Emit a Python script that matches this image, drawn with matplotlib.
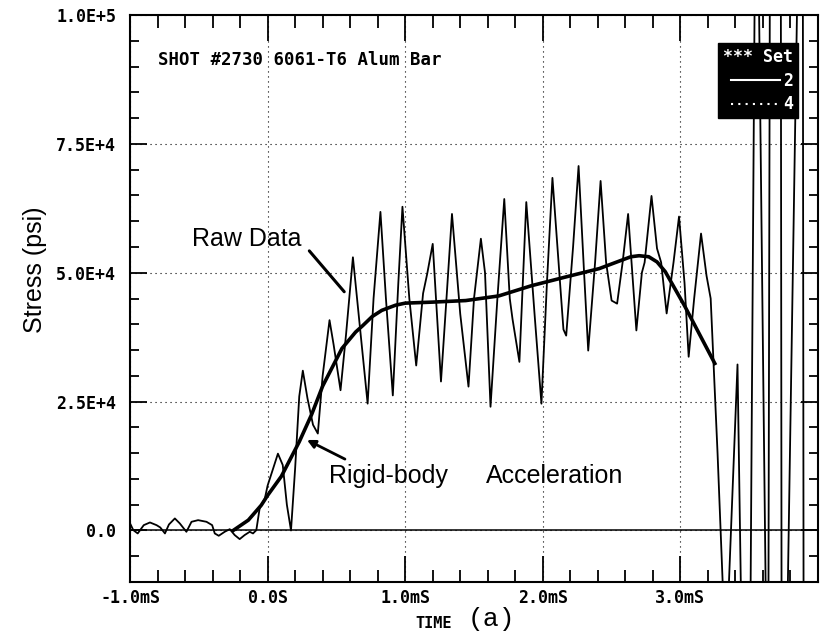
import numpy as np
import matplotlib
matplotlib.use("Agg")
import matplotlib.pyplot as plt
from matplotlib.lines import Line2D
from matplotlib.ticker import MultipleLocator, FixedLocator

# raw strain-gauge record, time in ms, stress in psi
raw_t = [
    -1.00, -0.976, -0.944, -0.90, -0.855, -0.807, -0.78, -0.746, -0.717, -0.674,
    -0.638, -0.59, -0.553, -0.505, -0.444, -0.403, -0.384, -0.355, -0.312, -0.275,
    -0.239, -0.203, -0.167, -0.13, -0.106, -0.082, -0.058, -0.02, 0.0, 0.04,
    0.075, 0.11, 0.14, 0.17, 0.20, 0.23, 0.256, 0.29, 0.33, 0.365,
    0.40, 0.45, 0.48, 0.53, 0.57, 0.62, 0.667, 0.727, 0.77, 0.82,
    0.86, 0.91, 0.95, 0.98, 1.03, 1.08, 1.13, 1.16, 1.20, 1.26,
    1.30, 1.34, 1.40, 1.46, 1.50, 1.55, 1.58, 1.62, 1.67, 1.72,
    1.76, 1.78, 1.83, 1.88, 1.94, 1.99, 2.03, 2.07, 2.12, 2.15,
    2.17, 2.22, 2.26, 2.30, 2.33, 2.38, 2.42, 2.46, 2.50, 2.54,
    2.58, 2.62, 2.68, 2.72, 2.74, 2.79, 2.83, 2.86, 2.90, 2.95,
    2.99, 3.03, 3.06, 3.10, 3.15, 3.19, 3.22, 3.27, 3.31, 3.35,
    3.415, 3.44, 3.51, 3.54, 3.57, 3.62, 3.64, 3.65, 3.73, 3.735,
    3.78, 3.85, 3.89, 3.895, 3.97,
]
raw_stress = [
    1400, 60, -580, 1030, 1550, 1030, 580, -580, 1160, 2330,
    1360, -260, 1680, 2000, 1680, 1030, -580, -1030, -260, 250,
    -900, -1680, -900, -260, -580, 60, 4260, 6200, 8700, 12000,
    14900, 12700, 5000, 0, 12000, 26000, 31000, 25600, 20500, 18800,
    30000, 40800, 36000, 27200, 38000, 53000, 40500, 24600, 45000, 61800,
    45000, 26200, 48000, 62800, 45000, 32000, 46000, 49800, 55600, 28900,
    45000, 61400, 42000, 27900, 45000, 56600, 50000, 24000, 45000, 64300,
    45000, 41000, 32700, 63700, 42000, 24600, 48000, 68400, 50000, 39000,
    37800, 55000, 70700, 50000, 34900, 52000, 67800, 52000, 44600, 44000,
    52000, 61400, 38800, 50000, 52000, 64900, 54700, 52000, 42100, 52000,
    60900, 48000, 33700, 45000, 57600, 49400, 45000, 15000, -12000, -12000,
    32200, -12000, -12000, 105000, 105000, -12000, -12000, 105000, 105000, -12000,
    -12000, 105000, 105000, -12000, -12000,
]

# smoothed rigid-body acceleration curve
rigid_t = [-0.25, -0.14, -0.046, 0.0, 0.1, 0.23, 0.32, 0.40, 0.54, 0.64,
           0.69, 0.76, 0.83, 0.93, 1.0, 1.2, 1.44, 1.68, 1.92, 2.17,
           2.41, 2.64, 2.70, 2.77, 2.83, 2.89, 3.03, 3.25]
rigid_stress = [0, 2000, 4900, 6800, 10500, 17200, 22500, 28000, 35300, 38500,
                39700, 41500, 42700, 43700, 44100, 44300, 44600, 45500, 47500, 49200,
                50800, 53100, 53300, 53100, 52100, 50200, 43600, 32400]

x_ticks = [-1.0, 0.0, 1.0, 2.0, 3.0]
x_ticklabels = ["-1.0mS", "0.0S", "1.0mS", "2.0mS", "3.0mS"]
y_ticks = [0, 25000, 50000, 75000, 100000]
y_ticklabels = ["0.0", "2.5E+4", "5.0E+4", "7.5E+4", "1.0E+5"]

mono = {"family": "DejaVu Sans Mono", "weight": "bold"}
sans = "Liberation Sans"

W, H = 825, 641
fig = plt.figure(figsize=(W / 100, H / 100), dpi=100)
ax = fig.add_axes([130 / W, 1 - 582 / H, 688 / W, 567 / H])

ax.plot(raw_t, raw_stress, color="k", lw=1.3, zorder=3, solid_joinstyle="round")
ax.plot(rigid_t, rigid_stress, color="k", lw=2.6, zorder=4, solid_joinstyle="round")
ax.axhline(0, color="k", lw=1.1, zorder=2)

ax.set_xlim(-1.0, 4.0)
ax.set_ylim(-10000, 100000)

ax.xaxis.set_major_locator(FixedLocator(x_ticks))
ax.set_xticklabels(x_ticklabels, fontdict=mono, fontsize=12)
ax.xaxis.set_minor_locator(MultipleLocator(0.2))
ax.yaxis.set_major_locator(FixedLocator(y_ticks))
ax.set_yticklabels(y_ticklabels, fontdict=mono, fontsize=12)
ax.yaxis.set_minor_locator(MultipleLocator(5000))

ax.tick_params(axis="x", which="major", direction="in", length=19, width=1.3,
               top=True, pad=5)
ax.tick_params(axis="x", which="minor", direction="in", length=9, width=1.3, top=True)
ax.tick_params(axis="y", which="major", direction="in", length=12, width=1.3,
               right=True, pad=10)
ax.tick_params(axis="y", which="minor", direction="in", length=6.5, width=1.3, right=True)

for s in ax.spines.values():
    s.set_linewidth(1.5)

ax.grid(which="major", color="k", lw=0.8, ls=(0, (1, 3.5)))
ax.set_axisbelow(True)

ax.text(0.041, 0.92, "SHOT #2730 6061-T6 Alum Bar", transform=ax.transAxes,
        fontdict=mono, fontsize=12.5, va="center", ha="left")

# annotations
ax.text(-0.551, 56600, "Raw Data", fontfamily=sans, fontsize=18, va="center", ha="left")
ax.annotate("", xy=(0.57, 45900), xytext=(0.29, 54650),
            arrowprops=dict(arrowstyle="-", color="k", lw=2.2))
ax.text(0.449, 10470, "Rigid-body", fontfamily=sans, fontsize=18, va="center", ha="left")
ax.text(1.587, 10470, "Acceleration", fontfamily=sans, fontsize=18, va="center", ha="left")
ax.annotate("", xy=(0.268, 17800), xytext=(0.58, 13600),
            arrowprops=dict(arrowstyle="-|>", color="k", lw=2.0, mutation_scale=12))

fig.text(130 / W - 0.115, 1 - 270 / H, "Stress (psi)", rotation=90, fontfamily=sans,
         fontsize=18, ha="center", va="center")
fig.text(452 / W, 1 - 624 / H, "TIME", fontdict=mono, fontsize=11, ha="right", va="center")
fig.text(468 / W, 1 - 619 / H, "(a)", fontfamily="Liberation Mono", fontsize=19,
         ha="left", va="center")

handles = [Line2D([], [], color="white", lw=1.5),
           Line2D([], [], color="white", lw=1.5, ls=(0, (1, 2.5)))]
leg = ax.legend(handles, ["2", "4"], title="*** Set", loc="upper right",
                bbox_to_anchor=(0.971, 0.951), borderaxespad=0, frameon=True,
                facecolor="black", edgecolor="black", framealpha=1, fancybox=False,
                prop={"family": "DejaVu Sans Mono", "weight": "bold", "size": 12},
                title_fontproperties={"family": "DejaVu Sans Mono", "weight": "bold", "size": 12},
                labelcolor="white", handlelength=2.9, handletextpad=0.2,
                borderpad=0.3, labelspacing=0.35, alignment="right")
leg.get_title().set_color("white")
leg.set_zorder(6)

fig.savefig("out.png", dpi=100)
